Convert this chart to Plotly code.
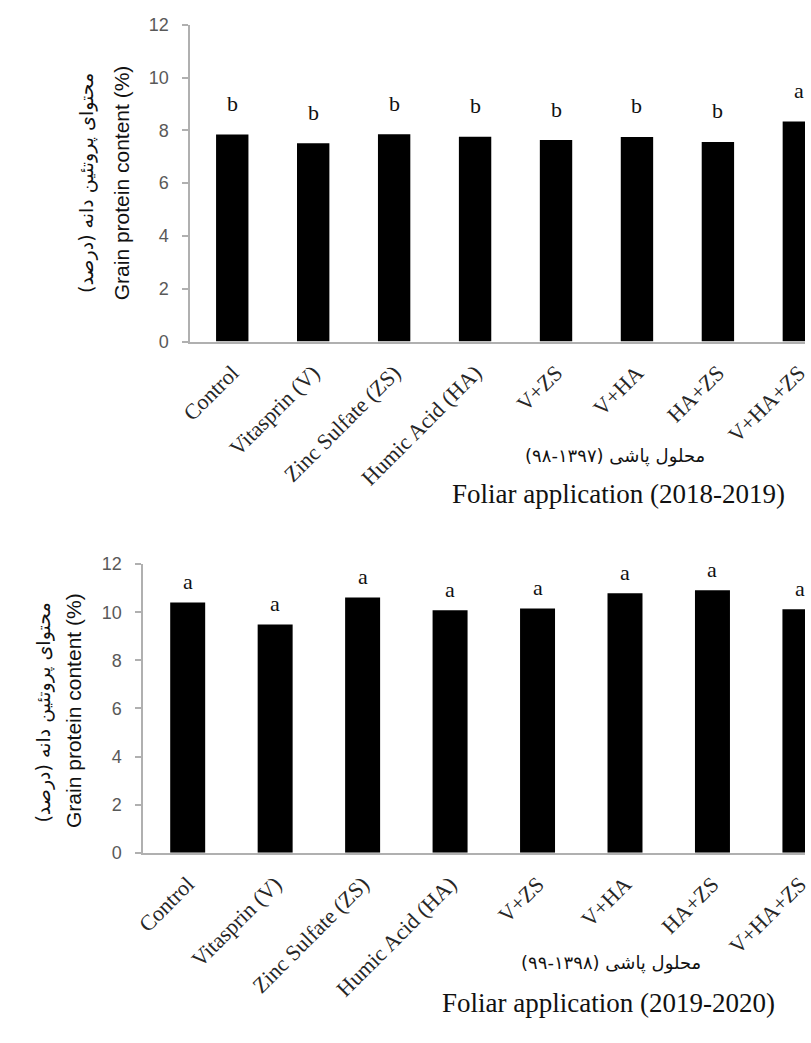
import plotly.graph_objects as go

# Foliar treatments
categories = ["Control", "Vitasprin (V)", "Zinc Sulfate (ZS)", "Humic Acid (HA)",
              "V+ZS", "V+HA", "HA+ZS", "V+HA+ZS"]

# Grain protein content (%) per season
protein_2018_2019 = [7.84, 7.51, 7.85, 7.76, 7.63, 7.75, 7.56, 8.33]
protein_2019_2020 = [10.41, 9.49, 10.61, 10.08, 10.16, 10.79, 10.92, 10.13]

# Mean-comparison letters
letters_2018_2019 = ["b", "b", "b", "b", "b", "b", "b", "a"]
letters_2019_2020 = ["a", "a", "a", "a", "a", "a", "a", "a"]

y_ticks = [0, 2, 4, 6, 8, 10, 12]

W, H = 811, 1043
RLE, PDF = "\u202b", "\u202c"

fa_ytitle = RLE + "محتوای پروتئین دانه (درصد)" + PDF
en_ytitle = "Grain protein content (%)"
fa_xtitle_1 = RLE + "محلول پاشی (۱۳۹۷-۹۸)" + PDF
fa_xtitle_2 = RLE + "محلول پاشی (۱۳۹۸-۹۹)" + PDF
en_xtitle_1 = "Foliar application (2018-2019)"
en_xtitle_2 = "Foliar application (2019-2020)"

SERIF = "Liberation Serif, Times New Roman, serif"
SANS = "Liberation Sans, Arial, sans-serif"
FA = "DejaVu Sans, sans-serif"
AXIS_GRAY = "#b0b0b0"


def py(px):
    return 1 - px / H


def px_x(px):
    return px / W


fig = go.Figure()

fig.add_trace(go.Bar(x=categories, y=protein_2018_2019, width=0.4,
                     marker=dict(color="black", line=dict(width=0)),
                     xaxis="x", yaxis="y", showlegend=False))
fig.add_trace(go.Bar(x=categories, y=protein_2019_2020, width=0.4,
                     marker=dict(color="black", line=dict(width=0)),
                     xaxis="x2", yaxis="y2", showlegend=False))

xaxis_common = dict(type="category", categoryorder="array", categoryarray=categories,
                    showline=True, linecolor=AXIS_GRAY, linewidth=1.5,
                    ticks="", tickangle=-45, showgrid=False, zeroline=False,
                    tickfont=dict(family=SERIF, size=22, color="#262626"),
                    ticklabelstandoff=8, fixedrange=True)
yaxis_common = dict(range=[0, 12], tickvals=y_ticks, showline=True, linecolor=AXIS_GRAY,
                    linewidth=1.5, ticks="outside", ticklen=6, tickcolor=AXIS_GRAY,
                    tickwidth=1.5, showgrid=False, zeroline=False,
                    tickfont=dict(family=SANS, size=18, color="#595959"),
                    ticklabelstandoff=10, fixedrange=True)

fig.update_layout(
    width=W, height=H,
    margin=dict(l=0, r=0, t=0, b=0),
    paper_bgcolor="white", plot_bgcolor="white",
    xaxis=dict(xaxis_common, domain=[px_x(183), 1], range=[-0.52, 7.076], anchor="y"),
    yaxis=dict(yaxis_common, domain=[py(338), py(15)], anchor="x"),
    xaxis2=dict(xaxis_common, domain=[px_x(135), 1], range=[-0.509, 7.058], anchor="y2"),
    yaxis2=dict(yaxis_common, domain=[py(859.3), py(565)], anchor="x2"),
)

annotations = []
for c, v, t in zip(categories, protein_2018_2019, letters_2018_2019):
    annotations.append(dict(x=c, y=v, xref="x", yref="y", text=t, showarrow=False,
                            yanchor="middle", yshift=31,
                            font=dict(family=SERIF, size=22, color="#111111")))
for c, v, t in zip(categories, protein_2019_2020, letters_2019_2020):
    annotations.append(dict(x=c, y=v, xref="x2", yref="y2", text=t, showarrow=False,
                            yanchor="middle", yshift=21,
                            font=dict(family=SERIF, size=22, color="#111111")))

# Axis titles, Persian and English
title_specs = [
    (fa_ytitle, 77, 176, -90, FA, 19),
    (en_ytitle, 113, 176, -90, SANS, 21),
    (fa_xtitle_1, 617, 455, 0, FA, 18),
    (en_xtitle_1, 620, 493, 0, SERIF, 27),
    (fa_ytitle, 33, 716, -90, FA, 19),
    (en_ytitle, 64, 714, -90, SANS, 21),
    (fa_xtitle_2, 613, 972, 0, FA, 18),
    (en_xtitle_2, 610, 1012, 0, SERIF, 27),
]
for text, x, y, ang, fam, size in title_specs:
    annotations.append(dict(text=text, x=px_x(x), y=py(y), xref="paper", yref="paper",
                            xanchor="center", yanchor="middle", textangle=ang,
                            showarrow=False, font=dict(family=fam, size=size, color="#111111")))

fig.update_layout(annotations=annotations)

fig.write_html("out.html")
